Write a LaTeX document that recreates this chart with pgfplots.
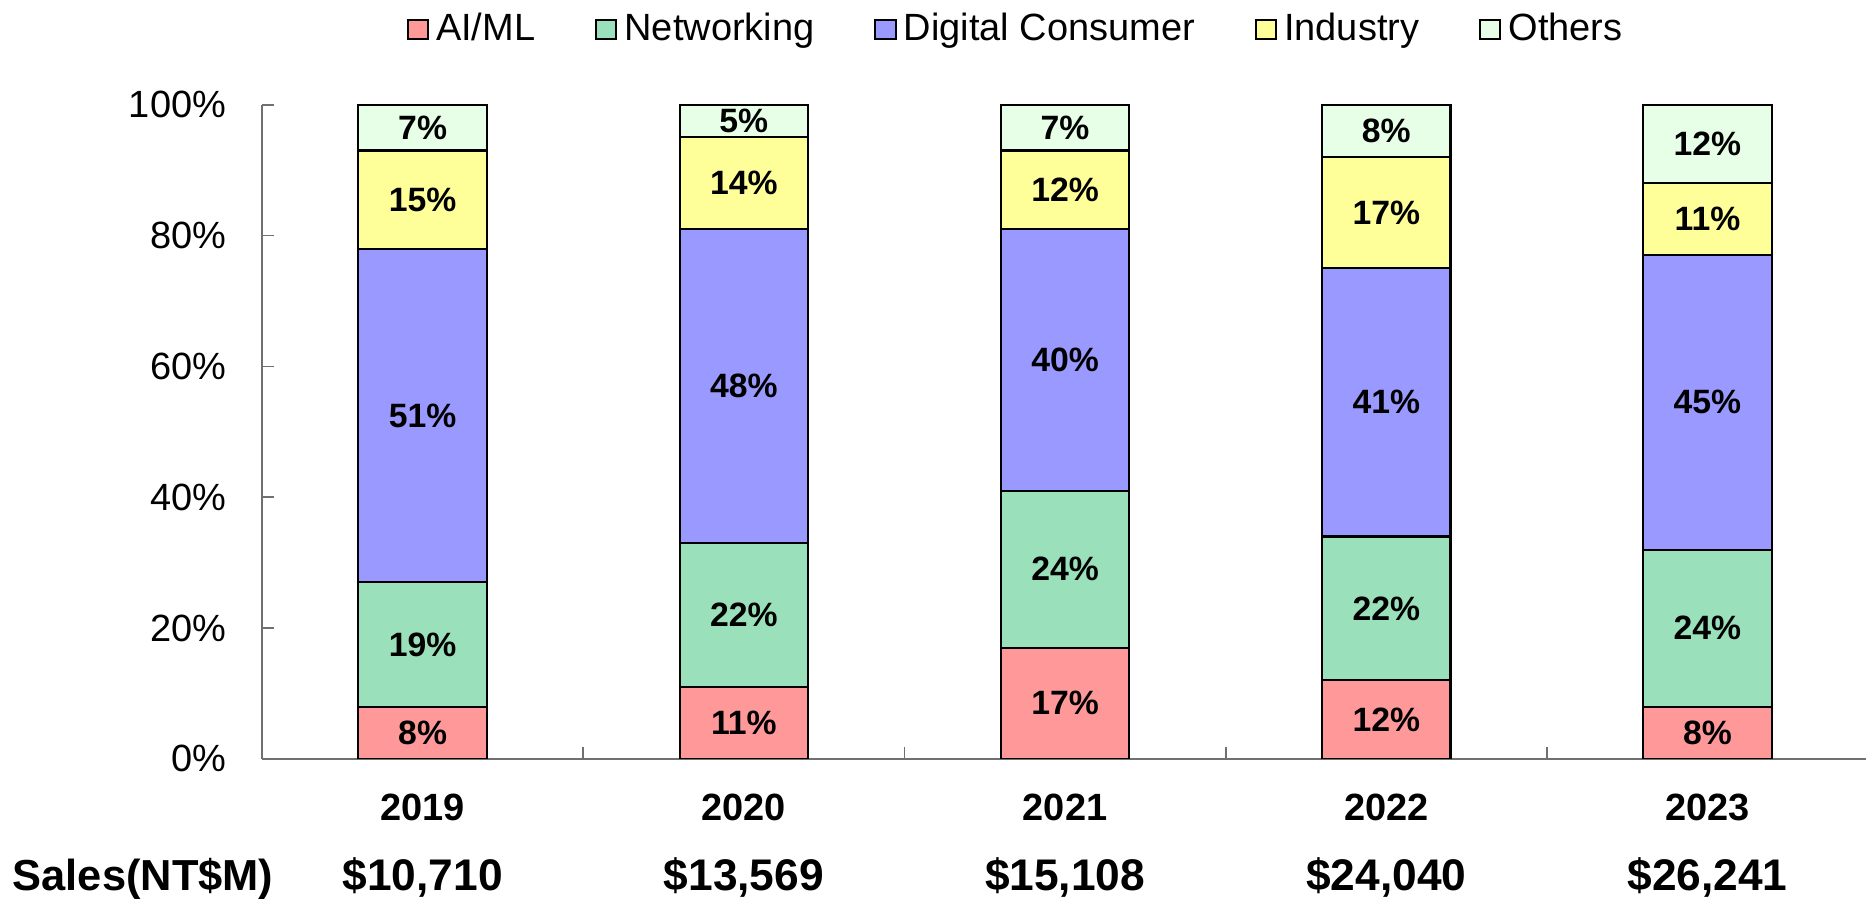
\documentclass[border=0pt]{standalone}
\usepackage{fontspec}
\setmainfont{Liberation Sans}
\usepackage{pgfplots}
\usepackage{pgfplotstable}
\pgfplotsset{compat=1.18}
\definecolor{cAI}{HTML}{FF9999}
\definecolor{cNet}{HTML}{99E0BB}
\definecolor{cDig}{HTML}{9999FF}
\definecolor{cInd}{HTML}{FFFF99}
\definecolor{cOth}{HTML}{E6FFE6}
\definecolor{axgray}{HTML}{707070}

\pgfplotstableread{
x ai net dig ind oth
0 8 19 51 15 7
1 11 22 48 14 5
2 17 24 40 12 7
3 12 22 41 17 8
4 8 24 45 11 12
}\shares

\newcommand{\salesfont}{\fontsize{12.6}{14}\selectfont\bfseries}
\pgfplotsset{
  base/.style={
    scale only axis, width=456.9pt, height=186.1pt,
    xmin=-0.5, xmax=4.5, ymin=0, ymax=100,
  },
  sq/.style={legend image code/.code={\draw[##1, draw=black, line width=0.6pt] (0pt,-2.7pt) rectangle (5.8pt,2.7pt);}},
  seg/.style={fill=#1, draw=black, line width=0.6pt, sq},
  lab/.style={draw=none, mark=none, point meta=explicit symbolic,
    nodes near coords={\pgfplotspointmeta\%},
    nodes near coords style={font=\fontsize{9.6}{11}\selectfont\bfseries, anchor=center, text=black}},
}
\begin{document}
\begin{tikzpicture}
\begin{axis}[base, name=ax,
  ybar stacked, bar width=0.4,
  axis x line*=bottom, axis y line*=left,
  axis line style={axgray, line width=0.5pt},
  tick align=inside,
  major tick length=3.5pt, minor tick length=3.5pt,
  ytick={0,20,...,100},
  yticklabels={0\%,20\%,40\%,60\%,80\%,100\%},
  yticklabel style={font=\fontsize{10.8}{12}\selectfont, xshift=-6.7pt},
  every major y tick/.append style={axgray, line width=0.5pt},
  xtick={0,...,4},
  xticklabels={2019,2020,2021,2022,2023},
  xticklabel style={font=\fontsize{10.8}{12}\selectfont\bfseries, anchor=base, yshift=-17.45pt},
  every major x tick/.append style={draw=none},
  minor xtick={0.5,1.5,2.5,3.5},
  every minor x tick/.append style={draw=axgray, line width=0.5pt},
  extra x ticks={0,...,4},
  extra x tick labels={{\salesfont\$10,710},{\salesfont\$13,569},{\salesfont\$15,108},{\salesfont\$24,040},{\salesfont\$26,241}},
  extra x tick style={major tick length=0pt, tick label style={yshift=-19.95pt}},
  legend columns=5,
  legend style={draw=none, fill=none, at={(0.4707,1.1154)}, anchor=center,
    font=\fontsize{10.8}{12}\selectfont, inner sep=0pt,
    /tikz/every even column/.append style={column sep=15pt},
    nodes={inner xsep=2pt, inner ysep=1pt}},
]
\addplot[seg=cAI] table[x=x, y=ai] {\shares};
\addplot[seg=cNet] table[x=x, y=net] {\shares};
\addplot[seg=cDig] table[x=x, y=dig] {\shares};
\addplot[seg=cInd] table[x=x, y=ind] {\shares};
\addplot[seg=cOth] table[x=x, y=oth] {\shares};
\legend{AI/ML,Networking,Digital Consumer,Industry,Others}
\end{axis}
\begin{axis}[base, at={(ax.south west)}, anchor=south west, hide axis, clip=false]
\addplot[lab] table[x=x, y expr=\thisrow{ai}/2, meta=ai] {\shares};
\addplot[lab] table[x=x, y expr=\thisrow{ai}+\thisrow{net}/2, meta=net] {\shares};
\addplot[lab] table[x=x, y expr=\thisrow{ai}+\thisrow{net}+\thisrow{dig}/2, meta=dig] {\shares};
\addplot[lab] table[x=x, y expr=\thisrow{ai}+\thisrow{net}+\thisrow{dig}+\thisrow{ind}/2, meta=ind] {\shares};
\addplot[lab] table[x=x, y expr=100-\thisrow{oth}/2, meta=oth] {\shares};
\end{axis}
\node[anchor=base west, font=\fontsize{12.35}{14}\selectfont\bfseries, inner sep=0pt] at ([xshift=-71.1pt, yshift=-37.4pt]ax.south west) {Sales(NT\$M)};
\pgfresetboundingbox
\useasboundingbox ([xshift=-74.54pt,yshift=-39.83pt]ax.south west) rectangle ([xshift=456.3pt,yshift=215.9pt]ax.south west);
\end{tikzpicture}
\end{document}
